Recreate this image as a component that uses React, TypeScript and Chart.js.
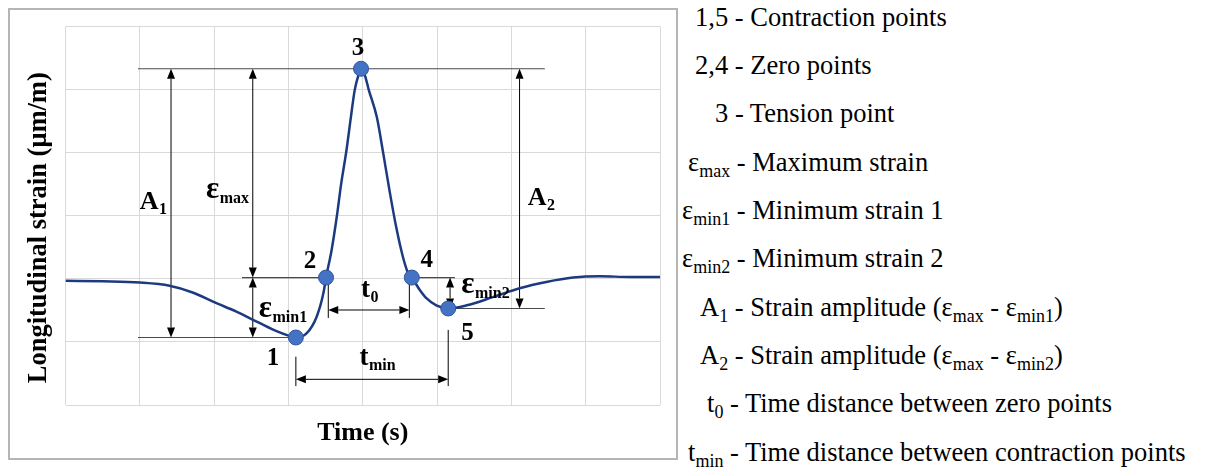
import React, { useEffect, useRef } from "react";
import { Chart, registerables } from "chart.js";

Chart.register(...registerables);

const FONT = "'Liberation Serif', 'Times New Roman', Times, serif";

// Axis range (grid cells, no tick labels shown)
const xRange = [0, 8];
const yRange = [0, 6];

// Strain signal (time in grid units, strain in grid units)
const timeValues = [
  0.0, 0.5, 1.0, 1.4, 1.72, 2.0, 2.3, 2.61, 2.84, 3.0, 3.1, 3.24, 3.38, 3.47,
  3.506, 3.58, 3.65, 3.71, 3.78, 3.84, 3.89, 3.94, 3.977, 4.03, 4.08, 4.19,
  4.27, 4.36, 4.45, 4.54, 4.61, 4.66, 4.77, 4.86, 4.99, 5.15, 5.4, 5.75, 6.11,
  6.47, 6.83, 7.19, 7.6, 8.0,
];
const strainValues = [
  1.97, 1.96, 1.94, 1.89, 1.78, 1.63, 1.48, 1.3, 1.17, 1.1, 1.07, 1.13, 1.4,
  1.77, 2.02, 2.45, 2.98, 3.51, 4.03, 4.56, 4.98, 5.22, 5.33, 5.22, 5.0, 4.56,
  4.03, 3.4, 2.82, 2.35, 2.09, 2.02, 1.82, 1.69, 1.58, 1.53, 1.58, 1.71, 1.85,
  1.95, 2.02, 2.04, 2.03, 2.03,
];

// Characteristic points 1..5
const pointLabels = ["1", "2", "3", "4", "5"];
const pointTime = [3.1, 3.506, 3.977, 4.66, 5.15];
const pointStrain = [1.07, 2.02, 5.33, 2.02, 1.53];
const pointLabelX = [2.793, 3.291, 3.937, 4.861, 5.411];
const pointLabelY = [0.634, 2.172, 5.549, 2.192, 1.03];

// Dimension symbols drawn on the chart
const symbolMain = ["A", "A", "ε", "ε", "t", "t", "ε"];
const symbolSub = ["1", "2", "max", "min1", "0", "min", "min2"];
const symbolX = [1.0, 6.22, 1.89, 2.6, 3.975, 3.955, 5.325];
const symbolY = [3.102, 3.171, 3.277, 1.4, 1.717, 0.634, 1.771];

// Legend text rows
const legendRows: Array<Array<[string, boolean]>> = [
  [["1,5 - Contraction points", false]],
  [["2,4 - Zero points", false]],
  [["3 - Tension point", false]],
  [["ε", false], ["max", true], [" - Maximum strain", false]],
  [["ε", false], ["min1", true], [" - Minimum strain 1", false]],
  [["ε", false], ["min2", true], [" - Minimum strain 2", false]],
  [["A", false], ["1", true], [" - Strain amplitude (ε", false], ["max", true], [" - ε", false], ["min1", true], [")", false]],
  [["A", false], ["2", true], [" - Strain amplitude (ε", false], ["max", true], [" - ε", false], ["min2", true], [")", false]],
  [["t", false], ["0", true], [" - Time distance between zero points", false]],
  [["t", false], ["min", true], [" - Time distance between contraction points", false]],
];
const legendLeft = [695, 695, 715, 688, 682, 682, 700, 700, 707, 688];
const legendBaseline0 = 26;
const legendStep = 48.3;

const levelMin1 = pointStrain[0];
const levelZero = pointStrain[1];
const levelMax = pointStrain[2];
const levelZero2 = pointStrain[3];
const levelMin2 = pointStrain[4];

const guideLines = [
  { y: levelMax, x1: 0.976, x2: 6.45 },
  { y: levelMin1, x1: 0.976, x2: pointTime[0] },
  { y: levelZero, x1: 2.375, x2: pointTime[1] },
  { y: levelZero2, x1: pointTime[3], x2: 5.24 },
  { y: levelMin2, x1: pointTime[4], x2: 6.45 },
];
const vArrows = [
  { x: 1.42, y1: levelMax, y2: levelMin1 },
  { x: 2.52, y1: levelMax, y2: levelZero },
  { x: 2.52, y1: levelZero, y2: levelMin1 },
  { x: 6.11, y1: levelMax, y2: levelMin2 },
  { x: 5.175, y1: levelZero2, y2: levelMin2 },
];
const hArrows = [
  { y: 1.506, x1: 3.536, x2: 4.627 },
  { y: 0.407, x1: pointTime[0], x2: pointTime[4] },
];
const tickLines = [
  { x: 3.536, y1: levelZero, y2: 1.38 },
  { x: 4.627, y1: levelZero, y2: 1.38 },
  { x: pointTime[0], y1: 0.766, y2: 0.3 },
  { x: pointTime[4], y1: 1.19, y2: 0.3 },
];

const annotationPlugin = {
  id: "strainAnnotations",
  beforeDraw(chart: any) {
    const ctx = chart.ctx;
    ctx.save();
    ctx.strokeStyle = "#b5b5b5";
    ctx.lineWidth = 2;
    ctx.strokeRect(1, 1, chart.width - 2, chart.height - 2);
    ctx.restore();
  },
  beforeDatasetsDraw(chart: any) {
    const ctx = chart.ctx;
    const sx = chart.scales.x;
    const sy = chart.scales.y;
    const X = (v: number) => sx.getPixelForValue(v);
    const Y = (v: number) => sy.getPixelForValue(v);
    ctx.save();
    ctx.lineWidth = 1.2;
    ctx.strokeStyle = "#4a4a4a";
    guideLines.forEach((g) => {
      ctx.beginPath();
      ctx.moveTo(X(g.x1), Y(g.y));
      ctx.lineTo(X(g.x2), Y(g.y));
      ctx.stroke();
    });
    ctx.strokeStyle = "#000";
    ctx.lineWidth = 1;
    tickLines.forEach((t) => {
      ctx.beginPath();
      ctx.moveTo(X(t.x), Y(t.y1));
      ctx.lineTo(X(t.x), Y(t.y2));
      ctx.stroke();
    });
    const headL = 10;
    const headW = 4;
    ctx.fillStyle = "#000";
    vArrows.forEach((a) => {
      const x = X(a.x);
      const top = Y(a.y1);
      const bot = Y(a.y2);
      ctx.beginPath();
      ctx.moveTo(x, top + headL);
      ctx.lineTo(x, bot - headL);
      ctx.stroke();
      ctx.beginPath();
      ctx.moveTo(x, top);
      ctx.lineTo(x - headW, top + headL);
      ctx.lineTo(x + headW, top + headL);
      ctx.closePath();
      ctx.fill();
      ctx.beginPath();
      ctx.moveTo(x, bot);
      ctx.lineTo(x - headW, bot - headL);
      ctx.lineTo(x + headW, bot - headL);
      ctx.closePath();
      ctx.fill();
    });
    hArrows.forEach((a) => {
      const y = Y(a.y);
      const l = X(a.x1);
      const r = X(a.x2);
      ctx.beginPath();
      ctx.moveTo(l + headL, y);
      ctx.lineTo(r - headL, y);
      ctx.stroke();
      ctx.beginPath();
      ctx.moveTo(l, y);
      ctx.lineTo(l + headL, y - headW);
      ctx.lineTo(l + headL, y + headW);
      ctx.closePath();
      ctx.fill();
      ctx.beginPath();
      ctx.moveTo(r, y);
      ctx.lineTo(r - headL, y - headW);
      ctx.lineTo(r - headL, y + headW);
      ctx.closePath();
      ctx.fill();
    });
    ctx.restore();
  },
  afterDatasetsDraw(chart: any) {
    const ctx = chart.ctx;
    const sx = chart.scales.x;
    const sy = chart.scales.y;
    const X = (v: number) => sx.getPixelForValue(v);
    const Y = (v: number) => sy.getPixelForValue(v);
    ctx.save();
    ctx.fillStyle = "#000";
    ctx.textBaseline = "alphabetic";
    ctx.textAlign = "center";
    ctx.font = `bold 25px ${FONT}`;
    pointLabels.forEach((lbl, i) => {
      ctx.fillText(lbl, X(pointLabelX[i]), Y(pointLabelY[i]));
    });
    ctx.textAlign = "left";
    symbolMain.forEach((m, i) => {
      const size = m === "ε" ? 31 : m === "A" ? 26 : 27;
      ctx.font = `bold ${size}px ${FONT}`;
      const x = X(symbolX[i]);
      const y = Y(symbolY[i]);
      ctx.fillText(m, x, y);
      const w = ctx.measureText(m).width;
      ctx.font = `bold 16px ${FONT}`;
      ctx.fillText(symbolSub[i], x + w + 0.5, y + 5);
    });
    // Y axis title
    const area = chart.chartArea;
    ctx.font = `bold 26.5px ${FONT}`;
    ctx.textAlign = "center";
    ctx.textBaseline = "middle";
    ctx.translate(31, (area.top + area.bottom) / 2 + 12);
    ctx.rotate(-Math.PI / 2);
    ctx.fillText("Longitudinal strain (μm/m)", 0, 0);
    ctx.restore();
  },
};

export default function App() {
  const canvasRef = useRef<HTMLCanvasElement | null>(null);

  useEffect(() => {
    document.body.style.margin = "0";
    if (!canvasRef.current) return;
    const chart = new Chart(canvasRef.current, {
      type: "scatter",
      data: {
        datasets: [
          {
            label: "Points",
            data: pointTime.map((t, i) => ({ x: t, y: pointStrain[i] })),
            showLine: false,
            pointRadius: 7.5,
            pointBackgroundColor: "#4472C4",
            pointBorderColor: "#2F5597",
            pointBorderWidth: 1,
          },
          {
            label: "Strain",
            data: timeValues.map((t, i) => ({ x: t, y: strainValues[i] })),
            showLine: true,
            borderColor: "#1c3a80",
            borderWidth: 2.5,
            pointRadius: 0,
            cubicInterpolationMode: "monotone",
            fill: false,
          },
        ],
      },
      options: {
        animation: false,
        responsive: false,
        devicePixelRatio: 1,
        events: [],
        layout: { padding: { left: 57.5, right: 18, top: 18.5, bottom: 6 } },
        plugins: {
          legend: { display: false },
          tooltip: { enabled: false },
        },
        scales: {
          x: {
            type: "linear",
            min: xRange[0],
            max: xRange[1],
            ticks: { display: false, stepSize: 1 },
            grid: { color: "#d9d9d9", lineWidth: 1, drawTicks: false },
            border: { display: false },
            title: {
              display: true,
              text: "Time (s)",
              color: "#000",
              font: { family: FONT, size: 26, weight: "bold" },
              padding: { top: 12.4, bottom: 5.4 },
            },
          },
          y: {
            type: "linear",
            min: yRange[0],
            max: yRange[1],
            ticks: { display: false, stepSize: 1 },
            grid: { color: "#d9d9d9", lineWidth: 1, drawTicks: false },
            border: { display: false },
          },
        },
      },
      plugins: [annotationPlugin],
    } as any);
    return () => chart.destroy();
  }, []);

  return (
    <div style={{ position: "relative", width: 1207, height: 469, overflow: "hidden" }}>
      <canvas
        ref={canvasRef}
        width={670}
        height={452}
        style={{ position: "absolute", left: 8, top: 8, width: 670, height: 452 }}
      />
      {legendRows.map((row, i) => (
        <div
          key={i}
          style={{
            position: "absolute",
            left: legendLeft[i],
            top: legendBaseline0 + i * legendStep - 22.2,
            fontFamily: FONT,
            fontSize: "26.5px",
            lineHeight: "26.5px",
            whiteSpace: "nowrap",
            color: "#000",
          }}
        >
          {row.map(([txt, sub], j) =>
            sub ? (
              <span key={j} style={{ fontSize: "18px", position: "relative", top: 6 }}>
                {txt}
              </span>
            ) : (
              <span key={j}>{txt}</span>
            )
          )}
        </div>
      ))}
    </div>
  );
}
